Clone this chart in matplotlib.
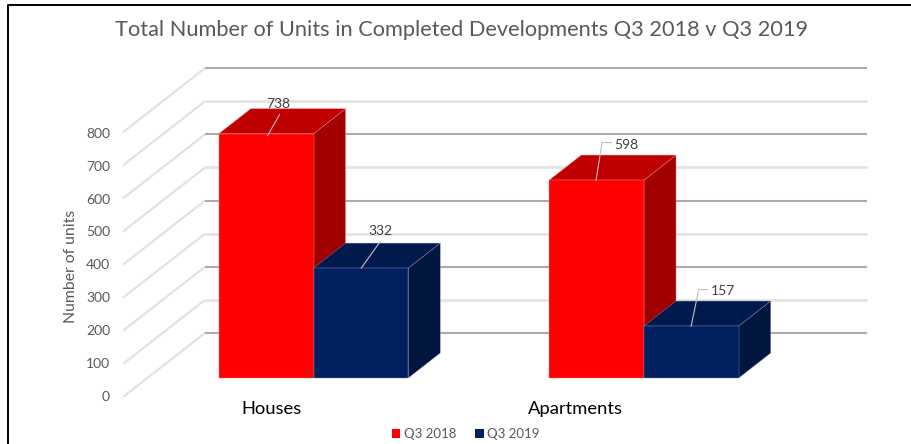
import matplotlib
matplotlib.use("Agg")
import matplotlib.pyplot as plt
from matplotlib.patches import Polygon, Rectangle

categories = ["Houses", "Apartments"]
series_names = ["Q3 2018", "Q3 2019"]
values_2018 = [738, 598]
values_2019 = [332, 157]
axis_ticks = [0, 100, 200, 300, 400, 500, 600, 700, 800]

W, H = 911, 444
PX_PER_UNIT = 0.331      # vertical pixels per unit
BASE_PX = 378            # pixel row of value 0 on bars' front face
CAT_STEP_PX = 330.5
CAT0_PX = 313.5
BAR_W = 94.7 / CAT_STEP_PX
DEPTH_X, DEPTH_Y = 32 / CAT_STEP_PX, 25 / PX_PER_UNIT
WALL_X, WALL_Y = 82 / CAT_STEP_PX, 64 / PX_PER_UNIT
FLOOR_SHIFT = (BASE_PX - 397) / PX_PER_UNIT

plt.rcParams["font.family"] = ["Lato", "DejaVu Sans"]
fig = plt.figure(figsize=(W / 100, H / 100), dpi=100, facecolor="white")
ax = fig.add_axes([0, 0, 1, 1])
ax.set_xlim(-CAT0_PX / CAT_STEP_PX, (W - CAT0_PX) / CAT_STEP_PX)
ax.set_ylim((BASE_PX - H) / PX_PER_UNIT, BASE_PX / PX_PER_UNIT)
ax.axis("off")


def dx(px):
    return px / CAT_STEP_PX


def dy(px):
    return px / PX_PER_UNIT


def xp(px):
    return (px - CAT0_PX) / CAT_STEP_PX


def yp(px):
    return (BASE_PX - px) / PX_PER_UNIT


# frame (top and left only)
ax.plot([xp(7.5), xp(7.5), xp(911)], [yp(444), yp(5.5), yp(5.5)],
        color="black", lw=1.4, solid_capstyle="butt", zorder=1)

# walls and gridlines
left_front = xp(123)
left_back = left_front + WALL_X
right_back = xp(867)
for i, t in enumerate(axis_ticks):
    y0 = t + FLOOR_SHIFT
    y1 = y0 + WALL_Y
    ax.plot([left_front, left_back], [y0, y1], color="#DEDEDE", lw=1.5,
            solid_capstyle="butt", zorder=2)
    ax.plot([left_front, left_back], [y0, y1], color="#F4F4F4", lw=0.4,
            ls=(0, (3, 3)), zorder=2.1)
    dark = (t // 100) % 2 == 0
    ax.plot([left_back, right_back], [y1, y1],
            color="#ABABAB" if dark else "#E4E4E4",
            lw=1.5 if dark else 2.0, solid_capstyle="butt", zorder=2)
    ax.text(xp(110), yp(396.5) + t * 0.328 / PX_PER_UNIT, str(t), ha="right", va="center",
            fontsize=10, color="#595959", zorder=6)

COLORS = [("#FF0000", "#C00000", "#A00000"), ("#002060", "#001A4E", "#00163F")]


def bar3d(x, v, cols, z):
    edge = dict(ec="#8088A8" if cols[0] == "#002060" else "#F08080", lw=0.3,
                joinstyle="round", zorder=z)
    ax.add_patch(Polygon([(x + BAR_W, 0), (x + BAR_W + DEPTH_X, DEPTH_Y),
                          (x + BAR_W + DEPTH_X, v + DEPTH_Y), (x + BAR_W, v)],
                         fc=cols[2], **edge))
    ax.add_patch(Polygon([(x, v), (x + BAR_W, v),
                          (x + BAR_W + DEPTH_X, v + DEPTH_Y), (x + DEPTH_X, v + DEPTH_Y)],
                         fc=cols[1], **edge))
    ax.add_patch(Rectangle((x, 0), BAR_W, v, fc=cols[0], **edge))


# leader lines: start offset on the bar, elbow points, label centre (pixels)
leaders = {
    (0, 0): ((-46, 2), [(12, -21)], (11, -32)),
    (0, 1): ((-47, 0), [(19, -26.5)], (19, -37.5)),
    (1, 0): ((-48, 0.5), [(6, -38), (15.5, -38)], (30, -36)),
    (1, 1): ((-47.5, 0), [(7.5, -36.5), (16, -36.5)], (32, -35)),
}

for i, cat in enumerate(categories):
    for j, vals in enumerate([values_2018, values_2019]):
        x = i + (j - 1) * BAR_W
        v = vals[i]
        bar3d(x, v, COLORS[j], 3 + j)
        off, elbow, lab = leaders[(i, j)]
        xc = x + BAR_W + dx(off[0])
        yc = v - dy(off[1])
        xs = [xc] + [xc + dx(e[0]) for e in elbow]
        ys = [yc] + [yc - dy(e[1]) for e in elbow]
        ax.plot(xs, ys, color="#BFBFBF", lw=0.8, zorder=7)
        ax.text(xc + dx(lab[0]), yc - dy(lab[1]), str(v), ha="center", va="center",
                fontsize=10, color="#404040", zorder=8)

# category labels
for cat, px in zip(categories, [271, 575.5]):
    ax.text(xp(px), yp(409), cat, ha="center", va="center", fontsize=13.2,
            color="black", zorder=6)

# title and axis title
ax.text(xp(462), yp(29.5), "Total Number of Units in Completed Developments Q3 2018 v Q3 2019",
        ha="center", va="center", fontsize=15.7, color="#595959")
ax.text(xp(71), yp(266), "Number of units", rotation=90, ha="center", va="center",
        fontsize=11.3, color="#595959")

# legend
for name, col, sq, tx in zip(series_names, [COLORS[0][0], COLORS[1][0]], [391.5, 475], [430, 513]):
    ax.add_patch(Rectangle((xp(sq), yp(438)), dx(8.5), dy(9.5), fc=col, ec="none", zorder=6))
    ax.text(xp(tx), yp(434), name, ha="center", va="center", fontsize=9.5, color="#595959")

fig.savefig("out.png", dpi=100, facecolor="white")
